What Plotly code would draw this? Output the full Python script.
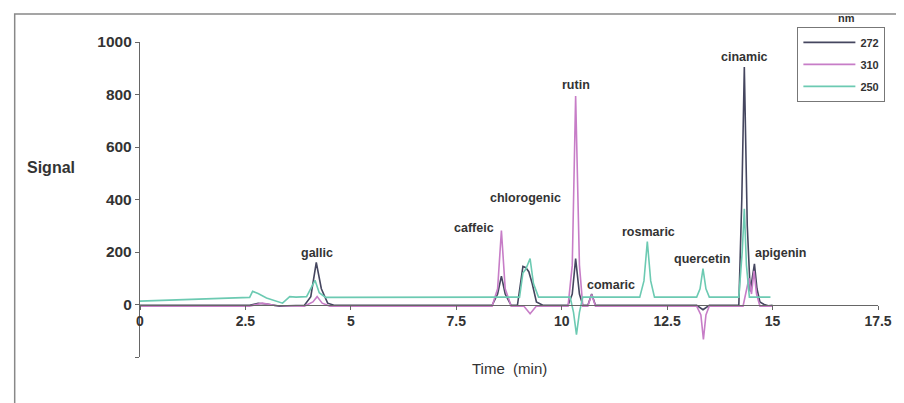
import plotly.graph_objects as go

# ---- data ----
t_272 = [0, 1.4, 2.6, 2.8, 3.0, 3.3, 3.9, 4.05, 4.18, 4.3, 4.45, 4.6,
         8.35, 8.48, 8.57, 8.66, 8.8, 8.95, 9.08, 9.15, 9.22, 9.3, 9.4, 9.55,
         10.15, 10.25, 10.33, 10.42, 10.5, 10.62, 10.71, 10.8, 10.95,
         12.0, 13.2, 13.35, 13.5, 14.2, 14.27, 14.33, 14.4, 14.47, 14.52,
         14.57, 14.63, 14.7, 14.8, 14.9, 15.0]
s_272 = [-3, -3, -3, 5, 2, -6, -3, 30, 160, 60, 5, -3,
         -3, 40, 108, 40, -3, -3, 145, 140, 125, 80, 10, -3,
         -3, 40, 175, 40, -3, -3, 40, -3, -3,
         -3, -3, -20, -3, -3, 400, 905, 300, 50, 100,
         155, 60, 10, 0, -5, -3]

t_310 = [0, 2.6, 2.9, 3.2, 3.9, 4.1, 4.2, 4.32, 4.5,
         8.35, 8.48, 8.57, 8.66, 8.8, 9.1, 9.25, 9.4,
         10.15, 10.25, 10.33, 10.42, 10.5, 10.62, 10.71, 10.8,
         13.2, 13.3, 13.36, 13.42, 13.5, 14.3, 14.38, 14.44, 14.5,
         14.56, 14.62, 14.7, 14.8, 15.0]
s_310 = [-6, -6, 5, -4, -6, 10, 30, 5, -6,
         -6, 60, 282, 60, -6, -6, -35, -6,
         -6, 150, 794, 150, -6, -6, 38, -6,
         -6, -40, -133, -40, -6, -6, 60, 100, 40,
         128, 40, -6, -6, -6]

t_250 = [0, 1.5, 2.6, 2.67, 2.8, 3.0, 3.25, 3.38, 3.55, 3.7, 3.95, 4.05,
         4.15, 4.25, 4.4, 4.6, 7.5, 8.5, 9.0, 9.08, 9.15, 9.25, 9.33, 9.45,
         10.2, 10.28, 10.35, 10.42, 10.5, 11.85, 11.95, 12.03, 12.11, 12.2,
         13.2, 13.28, 13.35, 13.42, 13.5, 14.2, 14.28, 14.33, 14.38, 14.45,
         14.6, 14.95]
s_250 = [13, 20, 27, 50, 42, 25, 10, 5, 30, 28, 30, 60,
         92, 45, 27, 27, 29, 28, 28, 120, 135, 175, 80, 28,
         28, -30, -115, -30, 28, 28, 90, 240, 90, 28,
         28, 60, 137, 60, 28, 28, 200, 365, 150, 28,
         28, 28]

series_names = ["272", "310", "250"]
series_colors = ["#45465f", "#c77dc7", "#6ccab2"]

peak_names = ["gallic", "caffeic", "chlorogenic", "rutin", "comaric",
              "rosmaric", "quercetin", "cinamic", "apigenin"]
peak_label_t = [4.20, 7.93, 9.15, 10.35, 11.16, 12.05, 13.33, 14.34, 15.19]
peak_label_s = [195, 290, 405, 836, 76, 275, 172, 943, 198]

x_ticks = [0, 2.5, 5, 7.5, 10, 12.5, 15, 17.5]
y_ticks = [-200, 0, 200, 400, 600, 800, 1000]
y_ticktext = ["", "0", "200", "400", "600", "800", "1000"]

FONT = "Liberation Sans, Arial, sans-serif"

fig = go.Figure()
for t, s, name, col in zip([t_272, t_310, t_250], [s_272, s_310, s_250],
                           series_names, series_colors):
    fig.add_trace(go.Scatter(x=t, y=s, mode="lines", name=name,
                             legendgroup=name,
                             line=dict(color=col, width=1.6)))

annotations = []
for n, tx, sy in zip(peak_names, peak_label_t, peak_label_s):
    annotations.append(dict(x=tx, y=sy, xref="x", yref="y", text=n,
                            showarrow=False,
                            font=dict(family=FONT, size=12.5, color="#333",
                                      weight="bold")))
annotations += [
    dict(x=-0.121, y=0.603, xref="paper", yref="paper", text="Signal",
         xanchor="center", yanchor="middle",
         showarrow=False, font=dict(family=FONT, size=16, color="#333",
                                    weight="bold")),
    dict(x=0.501, y=-0.035, xref="paper", yref="paper", text="Time&nbsp; (min)",
         xanchor="center", yanchor="middle",
         showarrow=False, font=dict(family=FONT, size=15, color="#333")),
    dict(x=0.957, y=1.075, xref="paper", yref="paper", text="nm",
         xanchor="center", yanchor="middle",
         showarrow=False, font=dict(family=FONT, size=11, color="#333",
                                    weight="bold")),
]

# page body adds an 8px offset, so the figure is 8px smaller on each axis
fig.update_layout(
    width=896, height=395,
    margin=dict(l=132, r=22, t=34, b=46),
    paper_bgcolor="white", plot_bgcolor="white",
    font=dict(family=FONT, color="#333"),
    showlegend=True,
    legend=dict(x=1.01, y=1.048, xanchor="right", yanchor="top",
                bordercolor="#777", borderwidth=1, bgcolor="white",
                font=dict(family=FONT, size=11, color="#333", weight="bold"),
                tracegroupgap=3, itemwidth=52),
    annotations=annotations,
    xaxis=dict(range=[0, 17.5], tickvals=x_ticks,
               ticktext=[str(v) for v in x_ticks],
               anchor="free", position=1/6,
               showline=True, linecolor="#666", linewidth=1.3,
               ticks="outside", ticklen=4, tickcolor="#666",
               showgrid=False, zeroline=False,
               tickfont=dict(family=FONT, size=14, color="#333",
                             weight="bold")),
    yaxis=dict(range=[-200, 1000], tickvals=y_ticks, ticktext=y_ticktext,
               showline=True, linecolor="#666", linewidth=1.3,
               ticks="outside", ticklen=4, tickcolor="#666",
               showgrid=False, zeroline=False,
               tickfont=dict(family=FONT, size=15.5, color="#333",
                             weight="bold")),
    shapes=[dict(type="rect", xref="paper", yref="paper",
                 x0=-0.1698, x1=1.05, y0=-0.2, y1=1.089,
                 line=dict(color="#888", width=1.5), layer="below")],
)

fig.write_html("out.html")
